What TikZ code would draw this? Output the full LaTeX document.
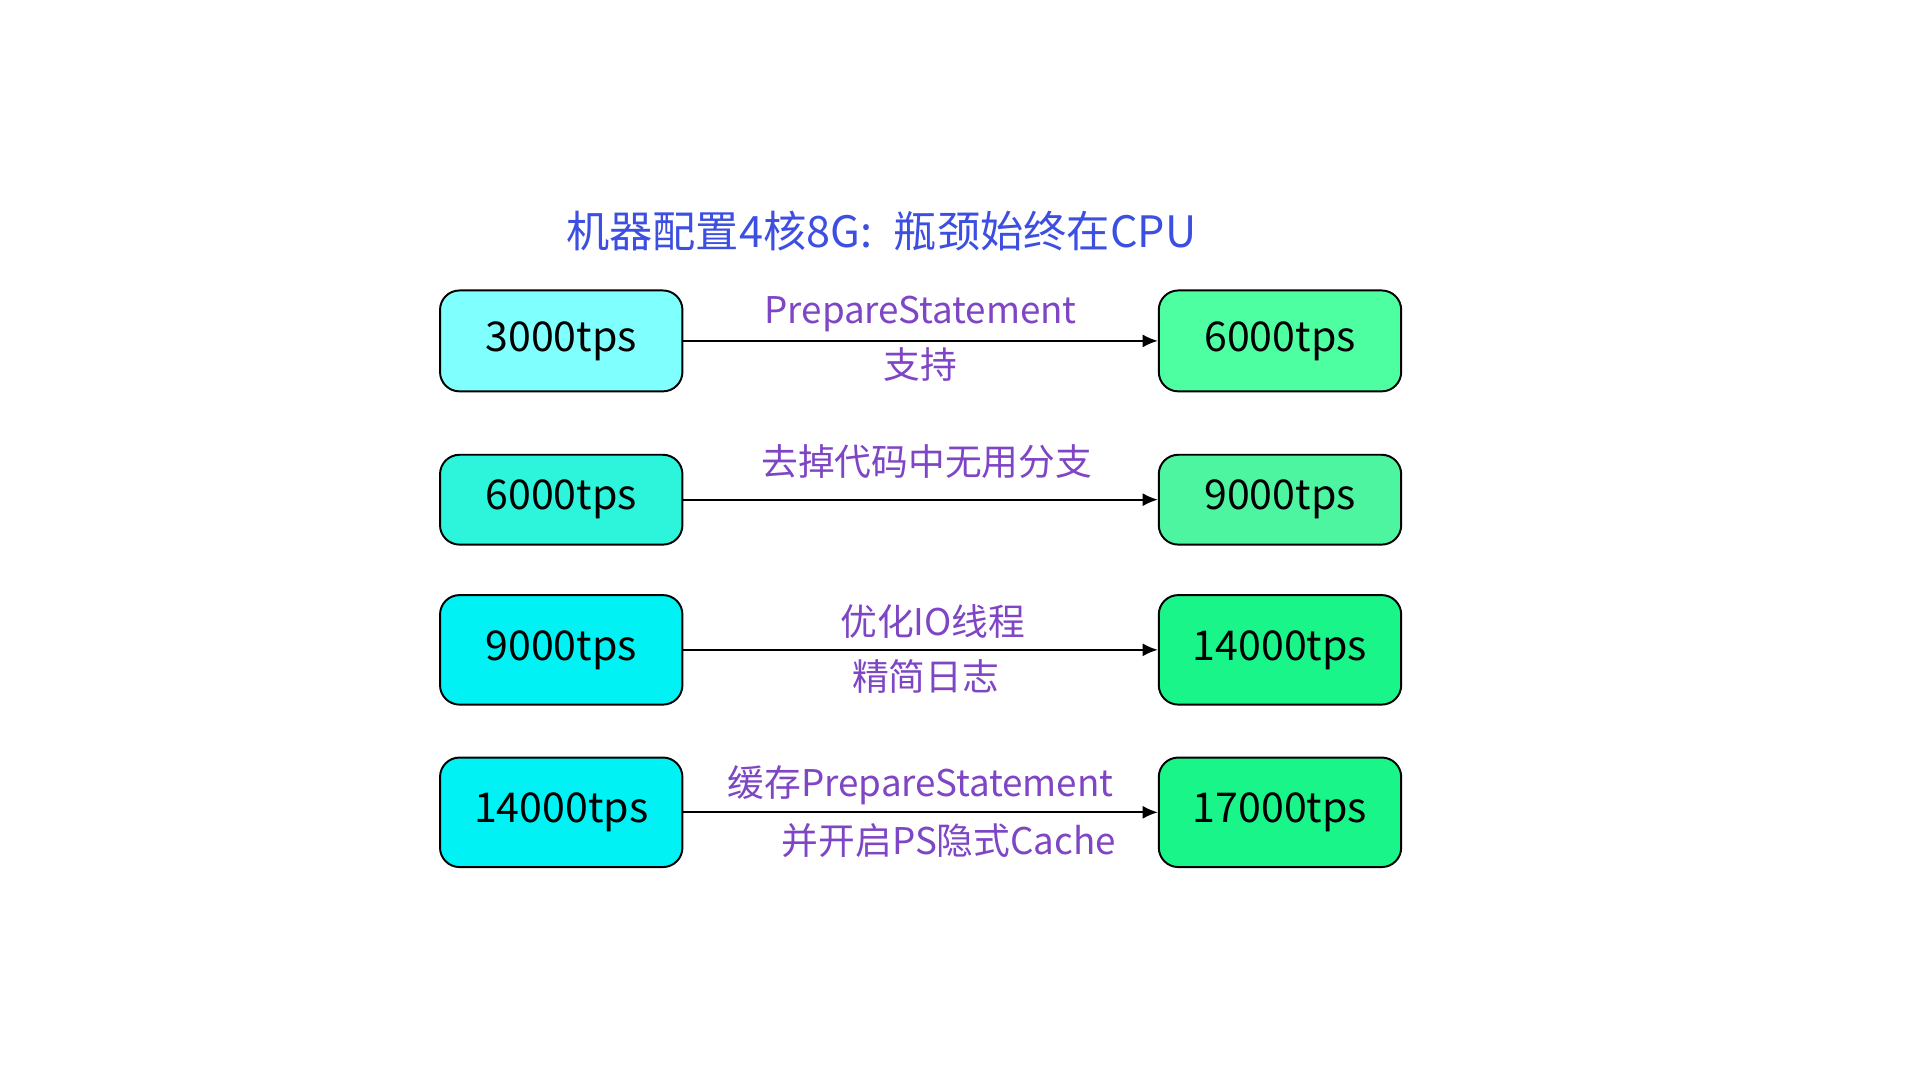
\documentclass[tikz,border=0pt]{standalone}
\usepackage{fontspec}
\setmainfont{Noto Sans CJK SC}
\usetikzlibrary{arrows.meta,positioning}
\definecolor{TitleBlue}{HTML}{3D4FE0}
\definecolor{StepPurple}{HTML}{7E45C4}
\definecolor{LowA}{HTML}{80FFFF}
\definecolor{LowB}{HTML}{2CF5DC}
\definecolor{LowC}{HTML}{00F2F5}
\definecolor{HighA}{HTML}{4DFFA0}
\definecolor{HighB}{HTML}{4DF5A0}
\definecolor{HighC}{HTML}{1AF58A}
\tikzset{tps box/.style={draw=black, line width=0.9pt, rounded corners=9pt, minimum width=3.94cm, font=\fontsize{19}{22}\selectfont},
  step text/.style={text=StepPurple, font=\fontsize{17}{20}\selectfont, inner sep=0pt},
  step arrow/.style={-{Latex[length=7pt,width=6pt]}, line width=0.8pt}}

\begin{document}
\begin{tikzpicture}[x=0.02cm, y=-0.02cm]
\useasboundingbox (0,0) rectangle (1560,878);

\node[text=TitleBlue, font=\fontsize{20}{24}\selectfont] (T) at (716,188) {机器配置4核8G:\enspace 瓶颈始终在CPU};

\node[tps box, fill=LowA, minimum height=1.64cm] (L1) at (456,277) {3000tps};
\node[tps box, fill=HighA, minimum height=1.64cm] (R1) at (1040,277) {6000tps};
\node[tps box, fill=LowB, minimum height=1.46cm] (L2) at (456,406) {6000tps};
\node[tps box, fill=HighB, minimum height=1.46cm] (R2) at (1040,406) {9000tps};
\node[tps box, fill=LowC, minimum height=1.78cm] (L3) at (456,528) {9000tps};
\node[tps box, fill=HighC, minimum height=1.78cm] (R3) at (1040,528) {14000tps};
\node[tps box, fill=LowC, minimum height=1.78cm] (L4) at (456,660) {14000tps};
\node[tps box, fill=HighC, minimum height=1.78cm] (R4) at (1040,660) {17000tps};

\draw[step arrow] (L1) -- (R1);
\draw[step arrow] (L2) -- (R2);
\draw[step arrow] (L3) -- (R3);
\draw[step arrow] (L4) -- (R4);

\node[step text] (S1a) at (748,255) {PrepareStatement};
\node[step text] (S1b) at (748,296) {支持};
\node[step text] (S2a) at (753,375) {去掉代码中无用分支};
\node[step text] (S3a) at (758,505) {优化IO线程};
\node[step text] (S3b) at (752,550) {精简日志};
\node[step text] (S4a) at (748,638) {缓存PrepareStatement};
\node[step text] (S4b) at (771,683) {并开启PS隐式Cache};
\end{tikzpicture}
\end{document}
